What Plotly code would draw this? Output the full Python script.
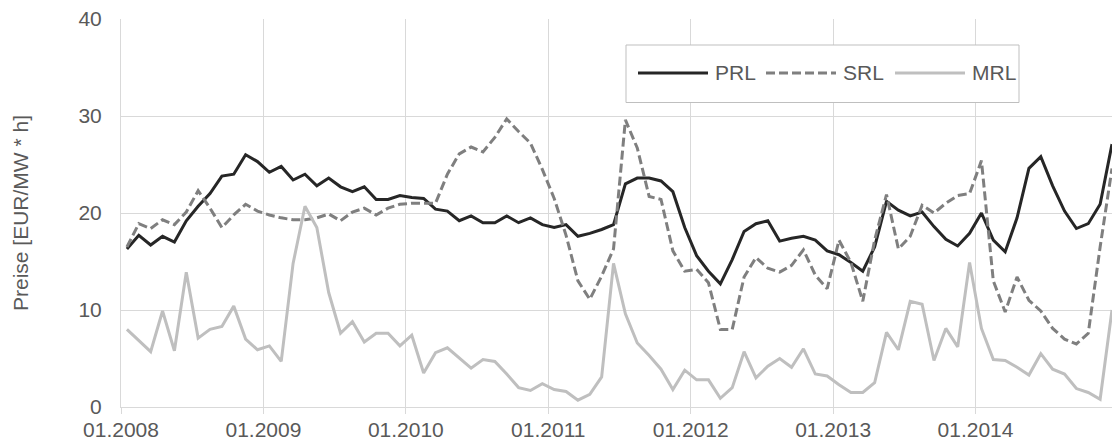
import plotly.graph_objects as go

# ---- data (monthly, 01.2008 .. 12.2014) ----
months = list(range(84))  # month index since 01.2008
tick_positions = [0, 12, 24, 36, 48, 60, 72]
tick_labels = ["01.2008", "01.2009", "01.2010", "01.2011", "01.2012", "01.2013", "01.2014"]
y_ticks = [0, 10, 20, 30, 40]

prl = [16.3, 17.7, 16.7, 17.6, 17.0, 19.2, 20.7, 22.0, 23.8, 24.0, 26.0, 25.3,
       24.2, 24.8, 23.4, 24.0, 22.8, 23.6, 22.7, 22.2, 22.7, 21.4, 21.4, 21.8,
       21.6, 21.5, 20.4, 20.2, 19.2, 19.7, 19.0, 19.0, 19.7, 19.0, 19.5, 18.8,
       18.5, 18.8, 17.6, 17.9, 18.3, 18.8, 23.0, 23.6, 23.6, 23.3, 22.2, 18.5,
       15.6, 14.0, 12.7, 15.2, 18.1, 18.9, 19.2, 17.1, 17.4, 17.6, 17.2, 16.1,
       15.7, 14.9, 14.0, 16.5, 21.2, 20.3, 19.7, 20.1, 18.6, 17.3, 16.6, 17.9,
       20.0, 17.2, 16.0, 19.5, 24.6, 25.8, 22.8, 20.2, 18.4, 18.9, 20.9, 27.1]

srl = [16.5, 18.9, 18.4, 19.3, 18.8, 20.1, 22.3, 20.5, 18.5, 19.8, 20.9, 20.2,
       19.8, 19.5, 19.3, 19.3, 19.5, 19.9, 19.2, 20.1, 20.5, 19.8, 20.5, 20.9,
       21.0, 21.0, 21.0, 24.0, 26.1, 26.8, 26.3, 27.8, 29.7, 28.4, 27.2, 24.5,
       21.5, 17.7, 13.0, 11.1, 13.5, 16.3, 29.6, 26.7, 21.7, 21.4, 16.1, 14.0,
       14.2, 12.8, 8.0, 8.0, 13.4, 15.4, 14.3, 13.9, 14.6, 16.2, 13.6, 12.2,
       17.2, 14.9, 10.9, 17.2, 21.9, 16.3, 17.6, 20.8, 20.0, 21.0, 21.8, 22.0,
       25.4, 13.0, 9.8, 13.4, 11.0, 9.9, 8.1, 7.0, 6.5, 7.6, 16.5, 24.6]

mrl = [8.0, 6.9, 5.7, 9.9, 5.8, 13.9, 7.1, 8.0, 8.3, 10.4, 7.0, 5.9,
       6.3, 4.7, 14.8, 20.7, 18.5, 11.8, 7.6, 8.8, 6.7, 7.6, 7.6, 6.3,
       7.4, 3.5, 5.6, 6.1, 5.0, 4.0, 4.9, 4.7, 3.4, 2.0, 1.7, 2.4,
       1.8, 1.6, 0.7, 1.3, 3.1, 14.8, 9.6, 6.6, 5.3, 3.9, 1.8, 3.8,
       2.8, 2.8, 0.9, 2.0, 5.7, 3.0, 4.2, 5.0, 4.1, 6.0, 3.4, 3.2,
       2.3, 1.5, 1.5, 2.5, 7.7, 5.9, 10.9, 10.6, 4.8, 8.1, 6.2, 14.9,
       8.1, 4.9, 4.8, 4.1, 3.3, 5.5, 3.9, 3.4, 1.9, 1.5, 0.8, 10.0]

series_names = ["PRL", "SRL", "MRL"]
series_colors = ["#262626", "#7f7f7f", "#bfbfbf"]
series_dash = ["solid", "9px,4px", "solid"]

FONT = "Liberation Sans, Arial, sans-serif"
FS = 21
TXT = "#595959"
GRID = "#d9d9d9"
LW = 3

W, H = 1112, 443
ML, MR, MT, MB = 121, 0, 19, 36

x_mid = [m + 0.5 for m in months]

fig = go.Figure()
for name, vals, col, dash in zip(series_names, [prl, srl, mrl], series_colors, series_dash):
    fig.add_trace(go.Scatter(x=x_mid, y=vals, mode="lines", name=name,
                             line=dict(color=col, width=LW, dash=dash),
                             showlegend=False))

# ---- manual legend (box + line samples + labels), in pixel -> paper coords ----
pw = W - ML - MR
ph = H - MT - MB
def px(xp):
    return (xp - ML) / pw
def py(yp):
    return (H - MB - yp) / ph

shapes = [dict(type="rect", xref="paper", yref="paper",
               x0=px(626), x1=px(1019), y0=py(102.5), y1=py(45),
               line=dict(color="#bfbfbf", width=1), fillcolor="white", layer="above")]
annotations = []
leg_y = py(73)
starts = [638, 766, 895]
for name, col, dash, x0 in zip(series_names, series_colors, series_dash, starts):
    shapes.append(dict(type="line", xref="paper", yref="paper",
                       x0=px(x0), x1=px(x0 + 70), y0=leg_y, y1=leg_y,
                       line=dict(color=col, width=LW, dash=dash), layer="above"))
    annotations.append(dict(xref="paper", yref="paper", x=px(x0 + 75), y=leg_y,
                            text=name, showarrow=False, xanchor="left", yanchor="middle",
                            font=dict(family=FONT, size=FS, color=TXT)))

fig.update_layout(
    width=W, height=H,
    margin=dict(l=ML, r=MR, t=MT, b=MB, pad=0),
    paper_bgcolor="white", plot_bgcolor="white",
    font=dict(family=FONT, size=FS, color=TXT),
    shapes=shapes, annotations=annotations,
    showlegend=False,
)
fig.update_xaxes(range=[0, 83.5], tickmode="array", tickvals=tick_positions,
                 ticktext=tick_labels, showgrid=True, gridcolor=GRID, gridwidth=1,
                 showline=True, linecolor=GRID, linewidth=1,
                 ticks="outside", ticklen=6, tickcolor=GRID, tickwidth=1,
                 zeroline=False, automargin=False, ticklabelstandoff=-2,
                 tickfont=dict(family=FONT, size=FS, color=TXT))
fig.update_yaxes(range=[0, 40], tickmode="array", tickvals=y_ticks,
                 showgrid=True, gridcolor=GRID, gridwidth=1,
                 showline=True, linecolor=GRID, linewidth=1,
                 zeroline=False, automargin=False, ticks="", ticklabelstandoff=14,
                 tickfont=dict(family=FONT, size=FS, color=TXT),
                 title=dict(text="Preise [EUR/MW * h]", standoff=44,
                            font=dict(family=FONT, size=FS, color=TXT)))

fig.write_html("out.html", config={"displayModeBar": False},
               post_script="document.body.style.margin='0';document.body.style.overflow='hidden';")
